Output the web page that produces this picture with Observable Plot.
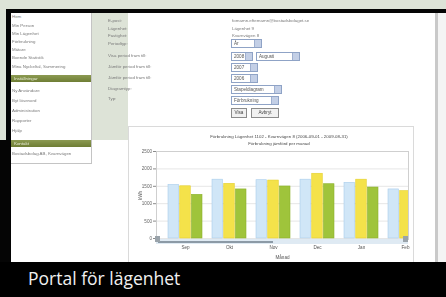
<!DOCTYPE html>
<html><head><meta charset="utf-8">
<script src="https://cdn.jsdelivr.net/npm/d3@7"></script>
<script src="https://cdn.jsdelivr.net/npm/@observablehq/plot@0.6"></script>
<style>
html,body{margin:0;padding:0;overflow:hidden;}
body{width:446px;height:297px;position:relative;background:#fff;font-family:"Liberation Sans",sans-serif;}
.a{position:absolute;}
#shot{position:absolute;left:0;top:0;width:446px;height:297px;overflow:hidden;filter:blur(0.35px);}
.side{position:absolute;left:11px;top:13px;width:80px;height:150px;background:#fff;border-right:1px solid #c4c4c4;border-bottom:1px solid #c4c4c4;overflow:hidden;}
.side div{position:absolute;left:1px;font-size:4.4px;color:#7a7a7a;white-space:nowrap;line-height:5px;}
.side .bar{left:0;width:77px;height:7px;background:linear-gradient(#8c9a52,#6f7e35);color:#e8ecd8;padding-left:3px;line-height:7px;}
.lab{position:absolute;left:108px;font-size:4.4px;color:#7a7a7a;white-space:nowrap;line-height:5px;}
.val{position:absolute;left:232px;font-size:4.4px;color:#7a7a7a;white-space:nowrap;line-height:5px;}
.sel{position:absolute;height:9px;border:1px solid #8fa3c6;background:#fff;font-size:4.6px;color:#555;line-height:7px;padding-left:2px;box-sizing:border-box;}
.sel::after{content:"";position:absolute;right:0;top:0;width:6px;height:7px;background:#c3cfe6;border-left:1px solid #9fb0d0;}
.btn{position:absolute;height:10px;border:1px solid #8b8b8b;background:#f1f1f1;font-size:4.6px;color:#444;line-height:8px;text-align:center;box-sizing:border-box;}
</style></head><body>
<div id="shot">
  <div class="a" style="left:0;top:0;width:446px;height:9px;background:#dde3d7;"></div>
  <div class="a" style="left:0;top:0;width:128px;height:140px;background:#dde3d7;"></div>
  <div class="a" style="left:6px;top:9px;width:440px;height:4px;background:#050505;"></div>
  <div class="a" style="left:6px;top:9px;width:5px;height:260px;background:#050505;"></div>
  <div class="a" style="left:0;top:140px;width:11px;height:130px;background:#050505;"></div>

  <div class="side" id="side"></div>
  <div id="form"></div>

  <div class="a" style="left:128px;top:126px;width:286px;height:140px;background:#fff;border:1px solid #dadada;box-sizing:border-box;"></div>
  <div class="a" id="ttl" style="left:128px;top:133px;width:302px;text-align:center;font-size:4.4px;line-height:7px;color:#4a4a4a;white-space:nowrap;"></div>
  <div class="a" id="chart" style="left:128px;top:148px;"></div>
  <div class="a" style="left:156px;top:239px;width:252px;height:5px;background:#dfeaf3;"></div>
  <div class="a" style="left:158px;top:241px;width:115px;height:2px;background:#8c9aa6;"></div>
  <div class="a" style="left:155px;top:236px;width:5px;height:6px;background:#9aa3aa;"></div>
  <div class="a" style="left:403px;top:236px;width:5px;height:6px;background:#9aa3aa;"></div>
</div>
<div class="a" style="left:435px;top:13px;width:3px;height:250px;background:#c9c9c9;z-index:5;"></div>
<div class="a" style="left:438px;top:13px;width:8px;height:250px;background:#f4f4f4;z-index:5;"></div>
<div class="a" style="left:0;top:262px;width:446px;height:35px;background:#000;z-index:5;"></div>
<div class="a" style="left:28px;top:266px;font-family:'Open Sans',sans-serif;font-size:17.5px;color:#f0f0f0;white-space:nowrap;z-index:6;">Portal för lägenhet</div>

<script>
// ---- data ----
const months = ["Sep", "Okt", "Nov", "Dec", "Jan", "Feb"];
const seriesNames = ["2008/09", "2007/08", "2006/07"];
const values2008 = [1540, 1690, 1675, 1690, 1600, 1410];
const values2007 = [1500, 1570, 1665, 1860, 1690, 1360];
const values2006 = [1255, 1410, 1495, 1560, 1465, null];
const yTicks = [0, 500, 1000, 1500, 2000, 2500];
const chartTitle = ["Förbrukning Lägenhet 1102 - Kvarnvägen 8 (2006-09-01 - 2009-08-31)", "Förbrukning jämförd per månad"];

const sideItems = [
  ["Hem", 16], ["Min Person", 25], ["Min Lägenhet", 33], ["Förbrukning", 41], ["Mätare", 49],
  ["Boende Statistik", 57], ["Mina Nyckeltal, Summering", 66]
];
const sideItems2 = [["Ny Användare", 90], ["Byt lösenord", 100], ["Administration", 110], ["Rapporter", 120], ["Hjälp", 130]];
const sideItems3 = [["Bostadsbolag AB, Kvarnvägen", 153]];
const formLabels = ["E-post:", "Lägenhet:", "Fastighet:", "Periodtyp:", "Visa period fram till:", "Jämför period fram till:", "Jämför period fram till:", "Diagramtyp:", "Typ:"];
const formLabelY = [18, 26, 33, 41, 53, 64, 75, 86, 96];
const formValues = ["fornamn.efternamn@bostadsbolaget.se", "Lägenhet 9", "Kvarnvägen 8"];

// ---- page chrome ----
const side = document.getElementById("side");
const addSide = (items) => items.forEach(([t, y]) => {
  const d = document.createElement("div"); d.textContent = t; d.style.top = (y - 13 - 2) + "px"; side.appendChild(d);
});
addSide(sideItems); addSide(sideItems2); addSide(sideItems3);
[["Inställningar", 75], ["Kontakt", 140]].forEach(([t, y]) => {
  const d = document.createElement("div"); d.className = "bar"; d.textContent = t; d.style.top = (y - 13) + "px"; side.appendChild(d);
});
const form = document.getElementById("form");
formLabels.forEach((t, i) => {
  const d = document.createElement("div"); d.className = "lab"; d.textContent = t; d.style.top = formLabelY[i] + "px"; form.appendChild(d);
});
formValues.forEach((t, i) => {
  const d = document.createElement("div"); d.className = "val"; d.textContent = t; d.style.top = formLabelY[i] + "px"; form.appendChild(d);
});
const selects = [["År", 231, 39, 31], ["2008", 231, 52, 22], ["Augusti", 256, 52, 44], ["2007", 231, 63, 27], ["2006", 231, 74, 27], ["Stapeldiagram", 231, 85, 51], ["Förbrukning", 231, 96, 48]];
selects.forEach(([t, x, y, w]) => {
  const d = document.createElement("div"); d.className = "sel"; d.textContent = t;
  Object.assign(d.style, {left: x + "px", top: y + "px", width: w + "px"}); form.appendChild(d);
});
[["Visa", 231, 108, 16], ["Avbryt", 251, 108, 28]].forEach(([t, x, y, w]) => {
  const d = document.createElement("div"); d.className = "btn"; d.textContent = t;
  Object.assign(d.style, {left: x + "px", top: y + "px", width: w + "px"}); form.appendChild(d);
});
document.getElementById("ttl").innerHTML = chartTitle.map(s => `<div>${s}</div>`).join("");

// ---- chart ----
const colors = ["#d0e6f7", "#f4e24a", "#9fc43b"];
const strokes = ["#a9cdec", "#e3cf2c", "#8cb12e"];
const allValues = [values2008, values2007, values2006];
const rows = [];
seriesNames.forEach((s, si) => months.forEach((m, mi) => rows.push({month: m, series: s, value: allValues[si][mi]})));

const W = 286, H = 114;
const xRange = [27.4, 305.6], pad = 0.238;
const step = (xRange[1] - xRange[0]) / (months.length + pad);
const bw = step * (1 - pad), gap = 1.2, barW = (bw - 2 * gap) / 3;

const barMarks = seriesNames.map((s, si) => Plot.barY(rows.filter(d => d.series === s && d.value != null), {
  x: "month", y: "value", fill: colors[si], stroke: strokes[si], strokeWidth: 0.6,
  insetLeft: si * (barW + gap), insetRight: (2 - si) * (barW + gap), clip: true
}));

const chart = Plot.plot({
  width: W, height: H,
  marginLeft: 28, marginRight: 6, marginTop: 3, marginBottom: 23,
  style: {fontFamily: "Liberation Sans", fontSize: "4.6px", color: "#555", background: "transparent", overflow: "visible"},
  x: {type: "band", domain: months, range: xRange, padding: pad},
  y: {domain: [0, 2500], range: [90, 3]},
  marks: [
    Plot.gridY(yTicks, {stroke: "#e6e6e6", strokeOpacity: 1}),
    Plot.frame({stroke: "#cfcfcf"}),
    ...barMarks,
    Plot.axisY({ticks: yTicks, tickFormat: d => String(d), tickSize: 3, tickPadding: 1.5, stroke: "#8a8a8a", fill: "#666", label: "kWh", labelAnchor: "center", labelArrow: "none", labelOffset: 18}),
    Plot.axisX({tickSize: 0, tickPadding: 6, fill: "#555", label: "Månad", labelAnchor: "center", labelOffset: 19})
  ]
});
document.getElementById("chart").appendChild(chart);
</script>
</body></html>
